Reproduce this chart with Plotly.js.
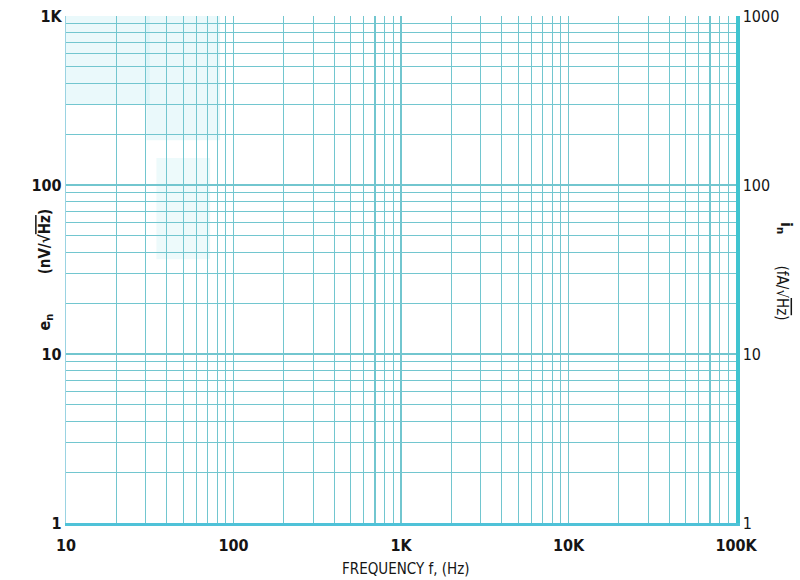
<!DOCTYPE html>
<html>
<head>
<meta charset="utf-8">
<script src="https://cdn.plot.ly/plotly-3.0.1.min.js"></script>
<style>html,body{margin:0;padding:0;background:#fff;}#chart{width:800px;height:580px;}</style>
</head>
<body>
<div id="chart"></div>
<script>
// Axis data
const freqTicks = [10, 100, 1000, 10000, 100000];
const freqLabels = ['10', '100', '1K', '10K', '100K'];
const enTicks = [1, 10, 100, 1000];
const enLabels = ['1', '10', '100', '1K'];
const inTicks = [1, 10, 100, 1000];
const inLabels = ['1', '10', '100', '1000'];
const minorDigits = [2, 3, 4, 5, 6, 7, 8, 9];

function minorVals(decades) {
  const out = [];
  decades.forEach(d => minorDigits.forEach(m => out.push(d * m)));
  return out;
}
const freqMinor = minorVals(freqTicks.slice(0, -1));
const enMinor = minorVals(enTicks.slice(0, -1));

const gridColor = '#72c6cf';
const fontFam = '"DejaVu Sans Condensed", "DejaVu Sans", sans-serif';
const tickFont = {family: fontFam, size: 16, color: '#151515', weight: 'bold'};

const data = [
  {x: [], y: [], type: 'scatter', mode: 'lines', xaxis: 'x', yaxis: 'y', hoverinfo: 'skip', showlegend: false},
  {x: [], y: [], type: 'scatter', mode: 'lines', xaxis: 'x', yaxis: 'y2', hoverinfo: 'skip', showlegend: false}
];

const layout = {
  width: 800, height: 580,
  margin: {l: 66, r: 64, t: 16, b: 57},
  paper_bgcolor: '#ffffff', plot_bgcolor: '#ffffff',
  showlegend: false,
  xaxis: {
    type: 'log', range: [1, 5], tickmode: 'array', tickvals: freqTicks, ticktext: freqLabels,
    showgrid: true, gridcolor: gridColor, gridwidth: 1.2,
    minor: {tickmode: 'array', tickvals: freqMinor, showgrid: true, gridcolor: gridColor, gridwidth: 1.1, ticks: ''},
    showline: true, linecolor: '#4fc2d8', linewidth: 3, zeroline: false,
    ticks: '', ticklabelstandoff: 6, tickfont: tickFont, fixedrange: true
  },
  yaxis: {
    type: 'log', range: [0, 3], tickmode: 'array', tickvals: enTicks, ticktext: enLabels,
    showgrid: true, gridcolor: gridColor, gridwidth: 1.2,
    minor: {tickmode: 'array', tickvals: enMinor, showgrid: true, gridcolor: gridColor, gridwidth: 1.1, ticks: ''},
    showline: true, linecolor: '#9ad3e2', linewidth: 1.2, zeroline: false,
    ticks: '', tickfont: tickFont, fixedrange: true
  },
  yaxis2: {
    type: 'log', range: [0, 3], overlaying: 'y', side: 'right',
    tickmode: 'array', tickvals: inTicks, ticktext: inLabels,
    showgrid: false, showline: true, linecolor: '#3fc4d0', linewidth: 3.5, zeroline: false,
    ticks: '', tickfont: {family: fontFam, size: 16, color: '#151515'}, fixedrange: true
  },
  shapes: [
    {type: 'rect', xref: 'paper', yref: 'paper', x0: 0, x1: 0.125, y0: 0.825, y1: 1, fillcolor: 'rgba(200,240,244,0.38)', line: {width: 0}, layer: 'below'},
    {type: 'rect', xref: 'paper', yref: 'paper', x0: 0.12, x1: 0.23, y0: 0.755, y1: 1, fillcolor: 'rgba(200,240,244,0.38)', line: {width: 0}, layer: 'below'},
    {type: 'rect', xref: 'paper', yref: 'paper', x0: 0.135, x1: 0.215, y0: 0.52, y1: 0.72, fillcolor: 'rgba(200,240,244,0.32)', line: {width: 0}, layer: 'below'}
  ],
  annotations: [
    {text: 'FREQUENCY f, (Hz)', xref: 'paper', yref: 'paper', x: 0.507, y: -0.091, xanchor: 'center', yanchor: 'middle', showarrow: false,
     font: {family: fontFam, size: 15, color: '#151515'}},
    {text: 'e<sub>n</sub>', xref: 'paper', yref: 'paper', x: -0.031, y: 0.396, xanchor: 'center', yanchor: 'middle', textangle: -90, showarrow: false,
     font: {family: fontFam, size: 16, color: '#151515', weight: 'bold'}},
    {text: '(nV/√<span style="text-decoration:overline">Hz</span>)', xref: 'paper', yref: 'paper', x: -0.031, y: 0.554, xanchor: 'center', yanchor: 'middle', textangle: -90, showarrow: false,
     font: {family: fontFam, size: 15, color: '#151515', weight: 'bold'}},
    {text: 'i<sub>n</sub>', xref: 'paper', yref: 'paper', x: 1.073, y: 0.582, xanchor: 'center', yanchor: 'middle', textangle: 90, showarrow: false,
     font: {family: fontFam, size: 16, color: '#151515', weight: 'bold'}},
    {text: '(fA/√<span style="text-decoration:overline">Hz</span>)', xref: 'paper', yref: 'paper', x: 1.069, y: 0.454, xanchor: 'center', yanchor: 'middle', textangle: 90, showarrow: false,
     font: {family: fontFam, size: 15, color: '#151515'}}
  ]
};

Plotly.newPlot('chart', data, layout, {staticPlot: true, displayModeBar: false});
</script>
</body>
</html>
